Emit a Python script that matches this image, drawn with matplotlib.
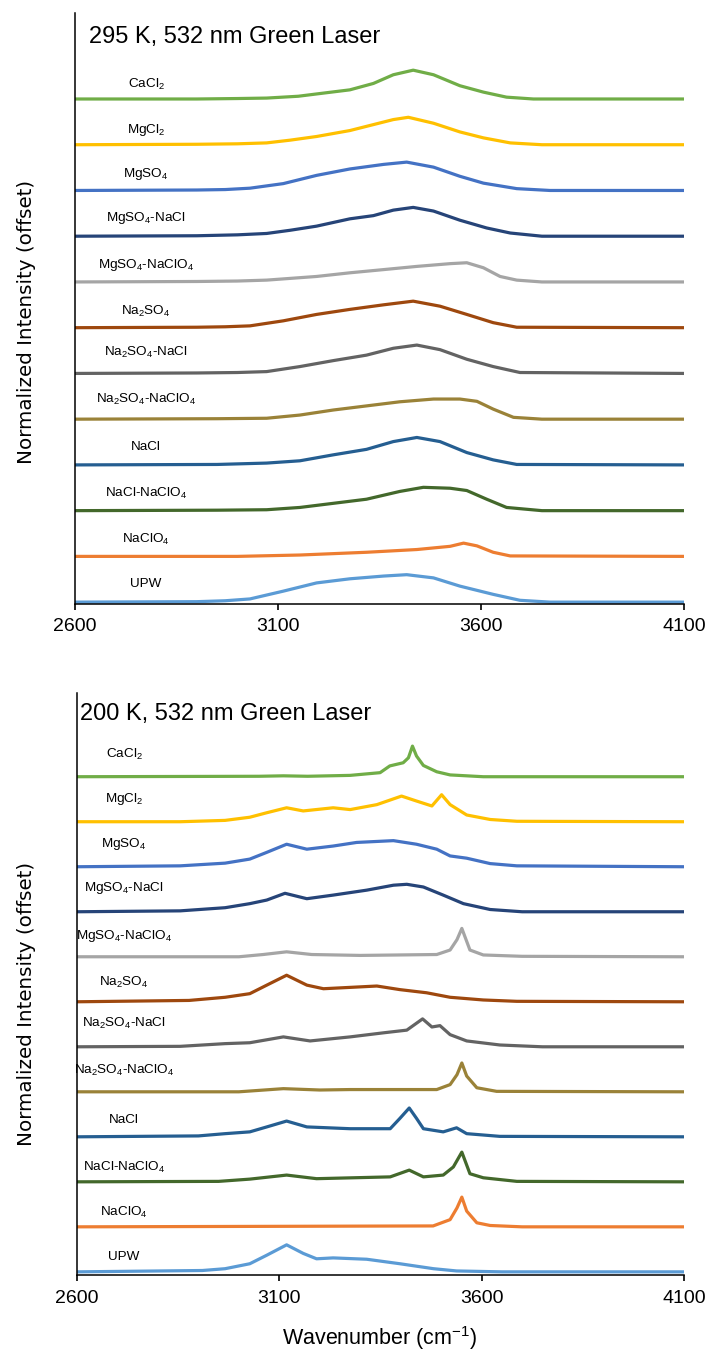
import matplotlib
matplotlib.use("Agg")
import matplotlib.pyplot as plt

plt.rcParams['mathtext.default'] = 'regular'

# sample names, top trace first
names = ['CaCl$_2$', 'MgCl$_2$', 'MgSO$_4$', 'MgSO$_4$-NaCl', 'MgSO$_4$-NaClO$_4$',
         'Na$_2$SO$_4$', 'Na$_2$SO$_4$-NaCl', 'Na$_2$SO$_4$-NaClO$_4$', 'NaCl',
         'NaCl-NaClO$_4$', 'NaClO$_4$', 'UPW']
colors = ['#70AD47', '#FFC000', '#4472C4', '#264478', '#A5A5A5', '#9E480E',
          '#636363', '#9A8238', '#255E91', '#43682B', '#ED7D31', '#5B9BD5']

# ---- 295 K spectra (wavenumber, normalized intensity) ----
cacl2_295_x = [2600, 2900, 3000, 3072, 3150, 3195, 3277, 3335, 3384, 3433, 3483, 3548, 3606, 3663, 3729, 4100]
cacl2_295_y = [0, 0, .01, .02, .06, .11, .20, .34, .53, .63, .53, .29, .15, .04, 0, 0]
mgcl2_295_x = [2600, 2900, 3000, 3072, 3130, 3195, 3277, 3335, 3384, 3421, 3483, 3548, 3606, 3672, 3750, 4100]
mgcl2_295_y = [0, .01, .02, .04, .10, .18, .31, .44, .55, .60, .47, .28, .15, .04, 0, 0]
mgso4_295_x = [2600, 2900, 2970, 3031, 3113, 3195, 3277, 3360, 3417, 3483, 3548, 3606, 3688, 3770, 4100]
mgso4_295_y = [0, .01, .02, .05, .15, .33, .47, .57, .62, .51, .31, .16, .04, 0, 0]
mgso4_nacl_295_x = [2600, 2900, 3000, 3072, 3130, 3195, 3277, 3335, 3384, 3433, 3483, 3548, 3614, 3672, 3750, 4100]
mgso4_nacl_295_y = [0, .01, .03, .06, .13, .22, .38, .45, .57, .63, .55, .35, .18, .07, 0, 0]
mgso4_naclo4_295_x = [2600, 2900, 3000, 3072, 3195, 3277, 3360, 3442, 3524, 3565, 3606, 3647, 3688, 3750, 4100]
mgso4_naclo4_295_y = [0, .01, .02, .04, .12, .20, .27, .34, .40, .42, .31, .12, .04, 0, 0]
na2so4_295_x = [2600, 2900, 2970, 3031, 3113, 3195, 3277, 3360, 3433, 3499, 3565, 3630, 3688, 4100]
na2so4_295_y = [0, .01, .02, .04, .15, .29, .40, .50, .58, .47, .29, .11, .01, 0]
na2so4_nacl_295_x = [2600, 2900, 3000, 3072, 3154, 3236, 3318, 3384, 3442, 3499, 3565, 3630, 3696, 4100]
na2so4_nacl_295_y = [0, .01, .02, .04, .15, .28, .40, .55, .62, .52, .31, .15, .02, 0]
na2so4_naclo4_295_x = [2600, 2950, 3072, 3154, 3236, 3318, 3400, 3483, 3548, 3590, 3630, 3680, 3750, 4100]
na2so4_naclo4_295_y = [0, .01, .02, .09, .20, .29, .38, .44, .44, .39, .22, .04, 0, 0]
nacl_295_x = [2600, 2950, 3072, 3154, 3236, 3318, 3384, 3442, 3499, 3565, 3630, 3688, 4100]
nacl_295_y = [0, .01, .04, .09, .22, .34, .51, .60, .51, .27, .11, .01, 0]
nacl_naclo4_295_x = [2600, 2950, 3072, 3154, 3236, 3318, 3400, 3458, 3524, 3565, 3614, 3663, 3750, 4100]
nacl_naclo4_295_y = [0, .01, .02, .07, .16, .25, .42, .51, .49, .44, .25, .07, 0, 0]
naclo4_295_x = [2600, 3000, 3154, 3318, 3442, 3524, 3557, 3590, 3630, 3672, 4100]
naclo4_295_y = [0, 0, .03, .09, .15, .22, .29, .23, .09, .01, 0]
upw_295_x = [2600, 2900, 2970, 3031, 3113, 3195, 3277, 3360, 3417, 3483, 3548, 3630, 3696, 3770, 4100]
upw_295_y = [0, .01, .03, .07, .24, .42, .51, .57, .60, .53, .35, .17, .04, 0, 0]

# ---- 200 K spectra ----
cacl2_200_x = [2600, 3050, 3110, 3170, 3275, 3349, 3373, 3406, 3419, 3429, 3439, 3456, 3489, 3522, 3604, 4100]
cacl2_200_y = [0, .01, .02, .01, .03, .09, .24, .31, .42, .68, .46, .25, .11, .04, 0, 0]
mgcl2_200_x = [2600, 2855, 2966, 3027, 3069, 3118, 3159, 3233, 3275, 3341, 3402, 3439, 3477, 3501, 3522, 3563, 3621, 3687, 4100]
mgcl2_200_y = [0, 0, .03, .10, .20, .31, .24, .31, .27, .38, .57, .46, .35, .60, .38, .15, .05, .01, 0]
mgso4_200_x = [2600, 2855, 2966, 3027, 3069, 3118, 3168, 3233, 3291, 3382, 3439, 3489, 3522, 3563, 3621, 3687, 4100]
mgso4_200_y = [0, .02, .08, .17, .32, .50, .39, .46, .54, .58, .50, .39, .24, .19, .07, .02, 0]
mgso4_nacl_200_x = [2600, 2855, 2966, 3027, 3069, 3114, 3168, 3233, 3316, 3382, 3415, 3456, 3505, 3555, 3621, 3700, 4100]
mgso4_nacl_200_y = [0, .02, .09, .18, .26, .41, .29, .37, .48, .59, .61, .55, .37, .18, .05, 0, 0]
mgso4_naclo4_200_x = [2600, 3000, 3060, 3118, 3180, 3300, 3489, 3522, 3539, 3551, 3571, 3604, 3700, 4100]
mgso4_naclo4_200_y = [0, 0, .05, .11, .05, .03, .05, .15, .38, .63, .15, .04, .01, 0]
na2so4_200_x = [2600, 2877, 2966, 3027, 3069, 3118, 3168, 3209, 3275, 3341, 3398, 3464, 3522, 3604, 3687, 4100]
na2so4_200_y = [0, .03, .10, .18, .37, .59, .37, .29, .32, .35, .27, .20, .10, .04, .01, 0]
na2so4_nacl_200_x = [2600, 2855, 2966, 3027, 3110, 3176, 3275, 3357, 3415, 3454, 3477, 3497, 3522, 3563, 3645, 3750, 4100]
na2so4_nacl_200_y = [0, .01, .07, .09, .22, .13, .22, .31, .37, .62, .44, .47, .27, .13, .04, 0, 0]
na2so4_naclo4_200_x = [2600, 3000, 3110, 3200, 3275, 3489, 3522, 3539, 3551, 3563, 3588, 3637, 4100]
na2so4_naclo4_200_y = [0, 0, .07, .04, .05, .05, .16, .38, .64, .35, .09, .01, 0]
nacl_200_x = [2600, 2900, 2966, 3027, 3069, 3118, 3168, 3275, 3374, 3398, 3421, 3439, 3456, 3505, 3538, 3563, 3645, 4100]
nacl_200_y = [0, .02, .07, .11, .22, .35, .22, .18, .18, .41, .64, .41, .18, .11, .20, .07, .01, 0]
nacl_naclo4_200_x = [2600, 2950, 3027, 3118, 3192, 3374, 3421, 3456, 3505, 3530, 3551, 3571, 3604, 3687, 4100]
nacl_naclo4_200_y = [0, .01, .06, .15, .07, .11, .26, .11, .15, .33, .66, .18, .09, .01, 0]
naclo4_200_x = [2600, 3480, 3522, 3539, 3551, 3563, 3588, 3621, 3700, 4100]
naclo4_200_y = [0, .02, .16, .42, .66, .35, .09, .03, 0, 0]
upw_200_x = [2600, 2910, 2966, 3027, 3069, 3118, 3159, 3192, 3233, 3316, 3398, 3481, 3538, 3650, 4100]
upw_200_y = [0, .03, .07, .18, .37, .60, .41, .29, .31, .28, .18, .07, .02, 0, 0]

spectra_295 = [(cacl2_295_x, cacl2_295_y), (mgcl2_295_x, mgcl2_295_y), (mgso4_295_x, mgso4_295_y),
               (mgso4_nacl_295_x, mgso4_nacl_295_y), (mgso4_naclo4_295_x, mgso4_naclo4_295_y),
               (na2so4_295_x, na2so4_295_y), (na2so4_nacl_295_x, na2so4_nacl_295_y),
               (na2so4_naclo4_295_x, na2so4_naclo4_295_y), (nacl_295_x, nacl_295_y),
               (nacl_naclo4_295_x, nacl_naclo4_295_y), (naclo4_295_x, naclo4_295_y), (upw_295_x, upw_295_y)]
spectra_200 = [(cacl2_200_x, cacl2_200_y), (mgcl2_200_x, mgcl2_200_y), (mgso4_200_x, mgso4_200_y),
               (mgso4_nacl_200_x, mgso4_nacl_200_y), (mgso4_naclo4_200_x, mgso4_naclo4_200_y),
               (na2so4_200_x, na2so4_200_y), (na2so4_nacl_200_x, na2so4_nacl_200_y),
               (na2so4_naclo4_200_x, na2so4_naclo4_200_y), (nacl_200_x, nacl_200_y),
               (nacl_naclo4_200_x, nacl_naclo4_200_y), (naclo4_200_x, naclo4_200_y), (upw_200_x, upw_200_y)]

xticks = [2600, 3100, 3600, 4100]

# label height above each baseline (offset units)
label_dy_295 = [.31, .33, .37, .39, .37, .35, .46, .44, .39, .37, .37, .39]
label_dy_200 = [.49, .51, .51, .53, .47, .42, .51, .47, .38, .33, .31, .33]

W, H = 709, 1351
fig = plt.figure(figsize=(W / 100, H / 100), dpi=100)

plain = ['Liberation Sans', 'DejaVu Sans']


def panel(rect, spectra, ylim, label_x, label_dy, title, title_xy):
    ax = fig.add_axes(rect)
    n = len(spectra)
    for i, ((x, y), c) in enumerate(zip(spectra, colors)):
        off = n - 1 - i
        ax.plot(x, [v + off for v in y], color=c, lw=2.3, solid_joinstyle='round')
        ax.text(label_x, off + label_dy[i], names[i], ha='center', va='center',
                fontsize=9.7, family=plain)
    ax.set_xlim(2600, 4100)
    ax.set_ylim(*ylim)
    ax.set_xticks(xticks)
    ax.set_xticklabels([str(t) for t in xticks], fontsize=14, family=plain)
    ax.set_yticks([])
    for s in ['top', 'right']:
        ax.spines[s].set_visible(False)
    for s in ['left', 'bottom']:
        ax.spines[s].set_linewidth(1.1)
    ax.tick_params(axis='x', direction='out', length=4.5, width=1.2, pad=6)
    fig.text(title_xy[0] / W, 1 - title_xy[1] / H, title, ha='left', va='baseline',
             fontsize=17, family=plain)
    return ax


panel([75 / W, 1 - 603.5 / H, 609 / W, 590.5 / H], spectra_295, (-0.03, 12.88), 2775,
      label_dy_295, '295 K, 532 nm Green Laser', (89, 43))
panel([77 / W, 1 - 1275 / H, 607 / W, 582 / H], spectra_200, (-0.07, 12.86), 2716,
      label_dy_200, '200 K, 532 nm Green Laser', (80, 720))

for yc in [322, 1004]:
    fig.text(27 / W, 1 - yc / H, 'Normalized Intensity (offset)', rotation=90,
             ha='center', va='center', fontsize=14.3, family='DejaVu Sans')

fig.text(380 / W, 1 - 1338 / H, 'Wavenumber (cm$^{-1}$)', ha='center', va='center',
         fontsize=15.5, family=plain)

fig.savefig('out.png', dpi=100)
